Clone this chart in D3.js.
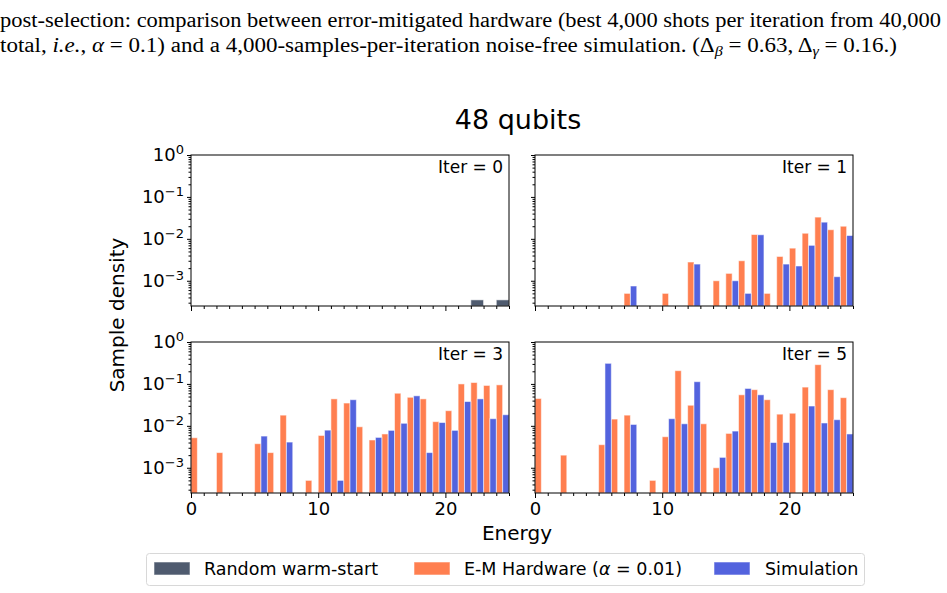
<!DOCTYPE html>
<html>
<head>
<meta charset="utf-8">
<script src="https://cdn.jsdelivr.net/npm/d3@7"></script>
<style>
  body { margin: 0; background: #fff; }
  svg text { font-family: "DejaVu Sans", sans-serif; fill: #000; }
  svg text.caption { font-family: "Liberation Serif", serif; font-size: 20px; }
  .domain { stroke: #000; }
</style>
</head>
<body>
<div id="chart"></div>
<script>
// Bins d'énergie (largeur 1, de 0 à 25)
const ENERGY_BINS = d3.range(0, 25);
const PANEL_TITLES = ['Iter = 0', 'Iter = 1', 'Iter = 3', 'Iter = 5'];
const Y_TICKS = [1, 0.1, 0.01, 0.001];
const Y_EXPONENTS = ['0', '\u22121', '\u22122', '\u22123'];
const X_TICKS = [0, 10, 20];
const LEGEND_LABELS = ['Random warm-start', 'E-M Hardware (', 'Simulation'];

// Densités (null = bin vide)
const iter0Random = [null, null, null, null, null, null, null, null, null, null, null, null, null, null, null, null, null, null, null, null, null, null, 3.5e-4, null, 3.5e-4];

const iter1Hardware = [null, null, null, null, null, null, null, 5e-4, null, null, 5e-4, null, 2.8e-3, null, 1e-3, 1.5e-3, 3e-3, 1.27e-2, 5e-4, 3.8e-3, 6e-3, 1.36e-2, 3.3e-2, 1.65e-2, 2e-2];
const iter1Simulation = [null, null, null, null, null, null, null, 7.5e-4, null, null, null, null, 2.5e-3, null, null, 1e-3, 5e-4, 1.25e-2, null, 2.5e-3, 2.25e-3, 7e-3, 2.5e-2, 1.25e-3, 1.2e-2];

const iter3Hardware = [5.2e-3, null, 2.3e-3, null, null, 3.75e-3, 2.3e-3, 1.8e-2, null, 5e-4, 5.9e-3, 4.4e-2, 3.5e-2, 9.5e-3, 4.6e-3, 6.4e-3, 6e-2, 4.8e-2, 4.4e-2, 1.26e-2, 2.3e-2, 0.1, 0.108, 9.2e-2, 9.5e-2];
const iter3Simulation = [null, null, null, null, null, 5.7e-3, null, 4.1e-3, null, null, 7.9e-3, 5e-4, 4.2e-2, null, 5.3e-3, 7.8e-3, 1.15e-2, 5.2e-2, 2.3e-3, 1.2e-2, 7.8e-3, 3.8e-2, 4.4e-2, 1.48e-2, 1.84e-2];

const iter5Hardware = [4.5e-2, null, 2e-3, null, null, 3.55e-3, 1.45e-2, 1.8e-2, null, 5e-4, 5.5e-3, 0.207, 3.1e-2, 1.12e-2, 1e-3, 6.6e-3, 5.5e-2, 7.3e-2, 4.2e-2, 1.9e-2, 2e-2, 8.4e-2, 0.288, 7.3e-2, 4.7e-2];
const iter5Simulation = [null, null, null, null, null, 0.31, null, 1.08e-2, null, null, 1.48e-2, 1.12e-2, 0.113, null, 1.77e-3, 7.5e-3, 7.8e-2, 5.5e-2, 4e-3, 4e-3, null, 2.97e-2, 1.17e-2, 1.4e-2, 6.4e-3];

const COLORS = { random: '#4f5b6f', hardware: '#ff7f50', simulation: '#5363de' };

// Mise en page
const width = 947, height = 593;
const panelW = 318, panelH = 151;
const panels = [
    { x: 191, y: 155, title: PANEL_TITLES[0], series: [{ values: iter0Random, color: COLORS.random, offset: 0, w: 1 }] },
    { x: 535, y: 155, title: PANEL_TITLES[1], series: [
        { values: iter1Hardware, color: COLORS.hardware, offset: 0, w: 0.5 },
        { values: iter1Simulation, color: COLORS.simulation, offset: 0.5, w: 0.5 }] },
    { x: 191, y: 342, title: PANEL_TITLES[2], series: [
        { values: iter3Hardware, color: COLORS.hardware, offset: 0, w: 0.5 },
        { values: iter3Simulation, color: COLORS.simulation, offset: 0.5, w: 0.5 }] },
    { x: 535, y: 342, title: PANEL_TITLES[3], series: [
        { values: iter5Hardware, color: COLORS.hardware, offset: 0, w: 0.5 },
        { values: iter5Simulation, color: COLORS.simulation, offset: 0.5, w: 0.5 }] }
];

const svg = d3.select('#chart').append('svg')
    .attr('width', width)
    .attr('height', height);

// Légende de la figure (texte du papier)
svg.append('text').attr('class', 'caption')
    .attr('x', 0).attr('y', 27)
    .attr('textLength', 941).attr('lengthAdjust', 'spacingAndGlyphs')
    .text('post-selection: comparison between error-mitigated hardware (best 4,000 shots per iteration from 40,000');

const cap2 = svg.append('text').attr('class', 'caption')
    .attr('x', 0).attr('y', 52)
    .attr('textLength', 897).attr('lengthAdjust', 'spacingAndGlyphs');
cap2.append('tspan').text('total, ');
cap2.append('tspan').attr('font-style', 'italic').text('i.e.');
cap2.append('tspan').text(', ');
cap2.append('tspan').attr('font-style', 'italic').text('\u03b1');
cap2.append('tspan').text(' = 0.1) and a 4,000-samples-per-iteration noise-free simulation. (\u0394');
cap2.append('tspan').attr('font-style', 'italic').attr('font-size', 14).attr('dy', 4).text('\u03b2');
cap2.append('tspan').attr('dy', -4).text(' = 0.63,  \u0394');
cap2.append('tspan').attr('font-style', 'italic').attr('font-size', 14).attr('dy', 4).text('\u03b3');
cap2.append('tspan').attr('dy', -4).text(' = 0.16.)');

// Titre
svg.append('text')
    .attr('x', 518).attr('y', 129)
    .attr('text-anchor', 'middle')
    .attr('font-size', 27)
    .text('48 qubits');

// Échelles
const xScale = d3.scaleLinear().domain([0, 25]).range([0, panelW]);
const yScale = d3.scaleLog().domain([2.5e-4, 1]).range([panelH, 0]);

const minorY = [];
[-4, -3, -2, -1].forEach(e => {
    d3.range(2, 10).forEach(m => {
        const v = m * Math.pow(10, e);
        if (v >= 2.5e-4 && v < 1) minorY.push(v);
    });
});
const minorX = d3.range(0, 26).filter(v => v % 10 !== 0);

panels.forEach((p, i) => {
    const g = svg.append('g').attr('transform', `translate(${p.x},${p.y})`);
    const showX = i >= 2;
    const showY = i % 2 === 0;

    // Barres
    p.series.forEach(s => {
        g.append('g').selectAll('rect')
            .data(ENERGY_BINS.filter(b => s.values[b] != null))
            .join('rect')
            .attr('x', b => xScale(b + s.offset))
            .attr('y', b => yScale(s.values[b]))
            .attr('width', b => xScale(b + s.offset + s.w) - xScale(b + s.offset))
            .attr('height', b => panelH - yScale(s.values[b]))
            .attr('fill', s.color)
            .attr('stroke', '#fff')
            .attr('stroke-opacity', 0.55)
            .attr('stroke-width', 1);
    });

    // Axe Y majeur
    const yAxis = g.append('g')
        .call(d3.axisLeft(yScale).tickValues(Y_TICKS).tickSize(4).tickPadding(3).tickFormat(''));
    yAxis.select('.domain').remove();
    if (showY) {
        yAxis.selectAll('.tick text')
            .attr('font-size', 18)
            .attr('font-family', 'DejaVu Sans')
            .attr('fill', '#000')
            .each(function (d, k) {
                const t = d3.select(this);
                t.append('tspan').text('10');
                t.append('tspan').attr('font-size', 13).attr('dy', -7).text(Y_EXPONENTS[k]);
            });
    }
    g.append('g')
        .call(d3.axisLeft(yScale).tickValues(minorY).tickSize(2.5).tickFormat(''))
        .select('.domain').remove();

    // Axe X
    const xAxis = g.append('g')
        .attr('transform', `translate(0,${panelH})`)
        .call(d3.axisBottom(xScale).tickValues(X_TICKS).tickSize(5).tickPadding(4)
            .tickFormat(showX ? d3.format('d') : ''));
    xAxis.select('.domain').remove();
    xAxis.selectAll('.tick text').attr('font-size', 18).attr('font-family', 'DejaVu Sans').attr('fill', '#000');
    g.append('g')
        .attr('transform', `translate(0,${panelH})`)
        .call(d3.axisBottom(xScale).tickValues(minorX).tickSize(3).tickFormat(''))
        .select('.domain').remove();

    // Cadre
    g.append('rect')
        .attr('width', panelW).attr('height', panelH)
        .attr('fill', 'none').attr('stroke', '#000').attr('stroke-width', 1);

    g.append('text')
        .attr('x', panelW - 6).attr('y', 18)
        .attr('text-anchor', 'end')
        .attr('font-size', 17)
        .text(p.title);
});

// Labels des axes
svg.append('text')
    .attr('transform', 'translate(124,315) rotate(-90)')
    .attr('text-anchor', 'middle')
    .attr('font-size', 20)
    .text('Sample density');

svg.append('text')
    .attr('x', 517).attr('y', 540)
    .attr('text-anchor', 'middle')
    .attr('font-size', 20)
    .text('Energy');

// Légende
const legend = svg.append('g');
legend.append('rect')
    .attr('x', 146.5).attr('y', 553.5).attr('width', 718).attr('height', 32)
    .attr('rx', 3).attr('fill', '#fff').attr('stroke', '#d8d8d8');

const legendItems = [
    { color: COLORS.random, x: 154, tx: 204 },
    { color: COLORS.hardware, x: 414, tx: 464 },
    { color: COLORS.simulation, x: 714, tx: 765 }
];
legendItems.forEach((it, k) => {
    legend.append('rect')
        .attr('x', it.x).attr('y', 562).attr('width', 36).attr('height', 13)
        .attr('fill', it.color)
        .attr('stroke', '#fff').attr('stroke-opacity', 0.55);
    const t = legend.append('text')
        .attr('x', it.tx).attr('y', 575)
        .attr('font-size', 17.5);
    if (k === 1) {
        t.append('tspan').text(LEGEND_LABELS[1]);
        t.append('tspan').attr('font-style', 'italic').text('\u03b1');
        t.append('tspan').text(' = 0.01)');
    } else {
        t.text(LEGEND_LABELS[k]);
    }
});
</script>
</body>
</html>
